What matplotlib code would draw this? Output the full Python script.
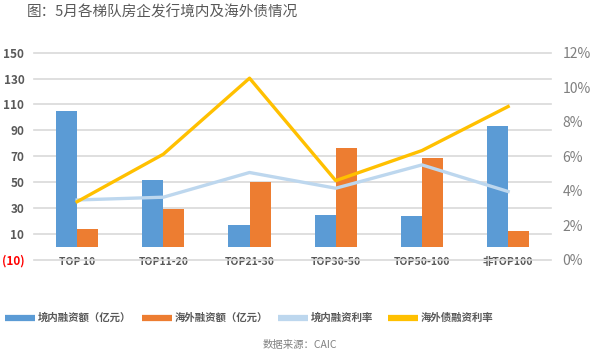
import matplotlib
matplotlib.use("Agg")
import matplotlib.pyplot as plt
import numpy as np

plt.rcParams['font.family'] = ['Noto Sans CJK SC', 'DejaVu Sans']

categories = ["TOP 10", "TOP11-20", "TOP21-30", "TOP30-50", "TOP50-100", "非TOP100"]
domestic_amt = [105, 52, 17, 25, 24, 93]      # 境内融资额（亿元）
overseas_amt = [14, 29, 50, 76, 69, 12]       # 海外融资额（亿元）
domestic_rate = [3.47, 3.63, 5.06, 4.15, 5.50, 3.96]   # %
overseas_rate = [3.37, 6.12, 10.52, 4.59, 6.33, 8.88]  # %
left_ticks = [-10, 10, 30, 50, 70, 90, 110, 130, 150]
right_ticks = [0, 2, 4, 6, 8, 10, 12]

c_blue = "#5B9BD5"
c_orange = "#ED7D31"
c_lblue = "#BDD7EE"
c_yellow = "#FFC000"
c_grid = "#D9D9D9"
c_text = "#595959"

fig = plt.figure(figsize=(6, 3.58), dpi=100)
ax = fig.add_axes([0.0567, 0.274, 0.862, 0.579])
ax2 = ax.twinx()

x = np.arange(len(categories))
w = 0.245
ax.bar(x - w / 2, domestic_amt, w, color=c_blue, zorder=2)
ax.bar(x + w / 2, overseas_amt, w, color=c_orange, zorder=2)
ax.set_xlim(-0.5, len(categories) - 0.5)
ax.set_ylim(-10, 150)
ax.set_yticks(left_ticks)
ax.yaxis.grid(True, color=c_grid, linewidth=1.2, zorder=0, clip_on=False)
ax.set_axisbelow(True)
ax.set_yticklabels(["(10)" if t < 0 else str(t) for t in left_ticks],
                   fontweight="bold", fontsize=8.5, color=c_text)
ax.get_yticklabels()[0].set_color("#FF0000")
ax.tick_params(axis="y", length=0, pad=7)
ax.set_xticks(x)
ax.set_xticklabels(categories, fontweight="bold", fontsize=7.5, color=c_text)
ax.tick_params(axis="x", length=0, pad=-2)

ax2.plot(x, domestic_rate, color=c_lblue, linewidth=2.4, zorder=3)
ax2.plot(x, overseas_rate, color=c_yellow, linewidth=2.4, zorder=4)
ax2.set_ylim(0, 12)
ax2.set_yticks(right_ticks)
ax2.set_yticklabels([f"{t}%" for t in right_ticks], fontsize=10, color="#7F7F7F")
ax2.tick_params(axis="y", length=0, pad=8)

for a in (ax, ax2):
    for s in a.spines.values():
        s.set_visible(False)

fig.text(0.045, 0.965, "图：5月各梯队房企发行境内及海外债情况", fontsize=10.5,
         color=c_text, va="center", ha="left")

# legend
legend_items = [
    ("境内融资额（亿元）", c_blue, 5),
    ("海外融资额（亿元）", c_orange, 142),
    ("境内融资利率", c_lblue, 278),
    ("海外债融资利率", c_yellow, 388),
]
ly = 1 - 318 / 358
for label, col, px in legend_items:
    fig.add_artist(plt.Line2D([px / 600, (px + 30) / 600], [ly, ly], color=col,
                              linewidth=4.5, solid_capstyle="butt"))
    fig.text((px + 33) / 600, ly, label, fontsize=7.5, fontweight="bold",
             color=c_text, va="center", ha="left")

fig.text(0.5, 1 - 345 / 358, "数据来源：CAIC", fontsize=7.5, color="#808080",
         ha="center", va="center")

fig.savefig("out.png", dpi=100)
